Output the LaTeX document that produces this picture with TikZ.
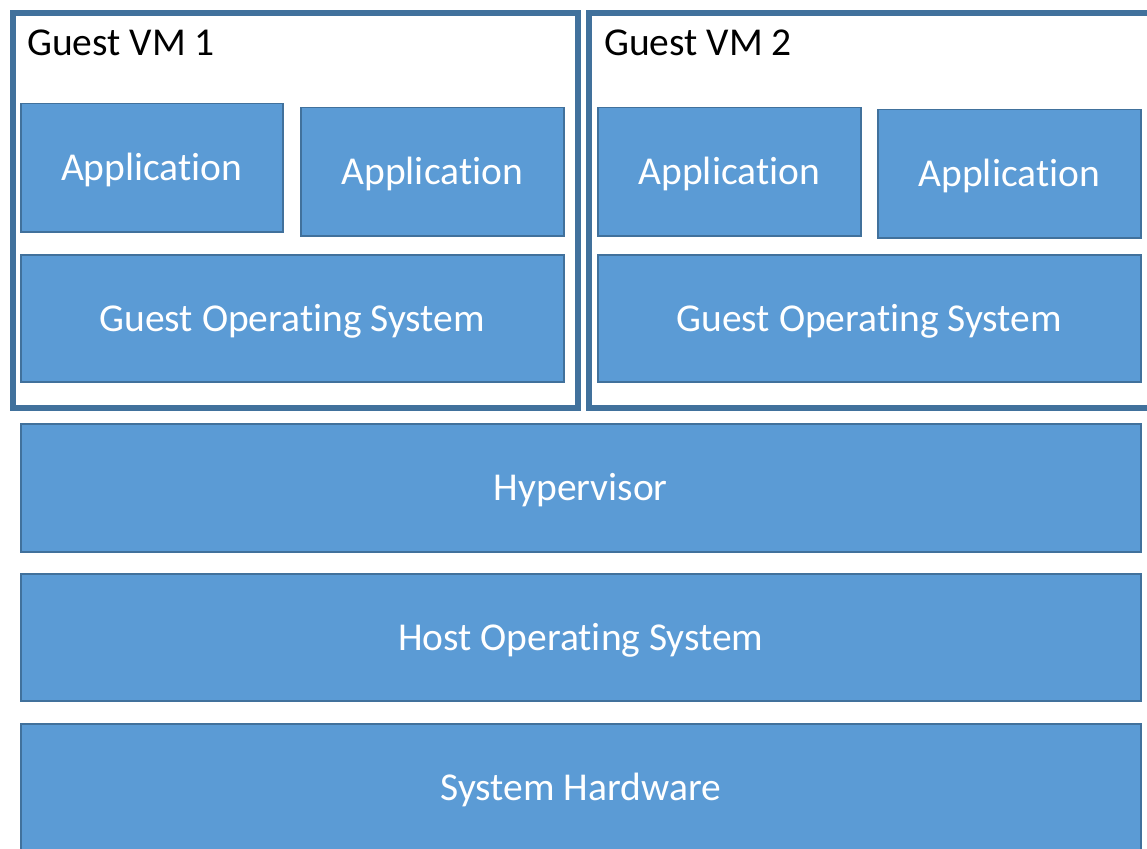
\documentclass[tikz,border=0pt]{standalone}
\usepackage{fontspec}
\setmainfont[RawFeature={-liga;-clig;-dlig}]{Carlito}
\definecolor{layerfill}{HTML}{5B9BD5}
\definecolor{layeredge}{HTML}{41719C}
\begin{document}
\begin{tikzpicture}[x=1pt,y=-1pt,
  layer/.style={draw=layeredge, fill=layerfill, line width=1.5pt,
    anchor=north west, inner sep=0pt, text=white,
    text height=30pt, text depth=4pt,
    font=\fontsize{39.5}{47}\selectfont},
  vmframe/.style={draw=layeredge, line width=6pt, anchor=north west,
    inner sep=0pt, fill=white},
  vmtitle/.style={anchor=base west, inner sep=0pt, text=black,
    font=\fontsize{39.5}{47}\selectfont}]
\useasboundingbox (0,0) rectangle (1147,848);
\clip (0,0) rectangle (1147,848);
\fill[white] (0,0) rectangle (1147,848);

% virtual machine frames
\node[vmframe, minimum width=565, minimum height=395] (vm1) at (10,10) {};
\node[vmframe, minimum width=575, minimum height=395] (vm2) at (585.5,10) {};
\node[vmtitle] (vm1title) at (27,56) {Guest VM 1};
\node[vmtitle] (vm2title) at (604,56) {Guest VM 2};

% guest VM 1 contents
\node[layer, minimum width=262, minimum height=128] (app11) at (20,103) {Application};
\node[layer, minimum width=263, minimum height=128] (app12) at (300,107) {Application};
\node[layer, minimum width=543, minimum height=127] (gos1) at (20,254) {Guest Operating System};

% guest VM 2 contents
\node[layer, minimum width=263, minimum height=128] (app21) at (597,107) {Application};
\node[layer, minimum width=263, minimum height=128] (app22) at (877,109) {Application};
\node[layer, minimum width=543, minimum height=127] (gos2) at (597,254) {Guest Operating System};

% shared layers
\node[layer, minimum width=1120, minimum height=128] (hyp) at (20,423) {Hypervisor};
\node[layer, minimum width=1120, minimum height=127] (hostos) at (20,573) {Host Operating System};
\node[layer, minimum width=1120, minimum height=128] (hw) at (20,723) {System Hardware};
\end{tikzpicture}
\end{document}
